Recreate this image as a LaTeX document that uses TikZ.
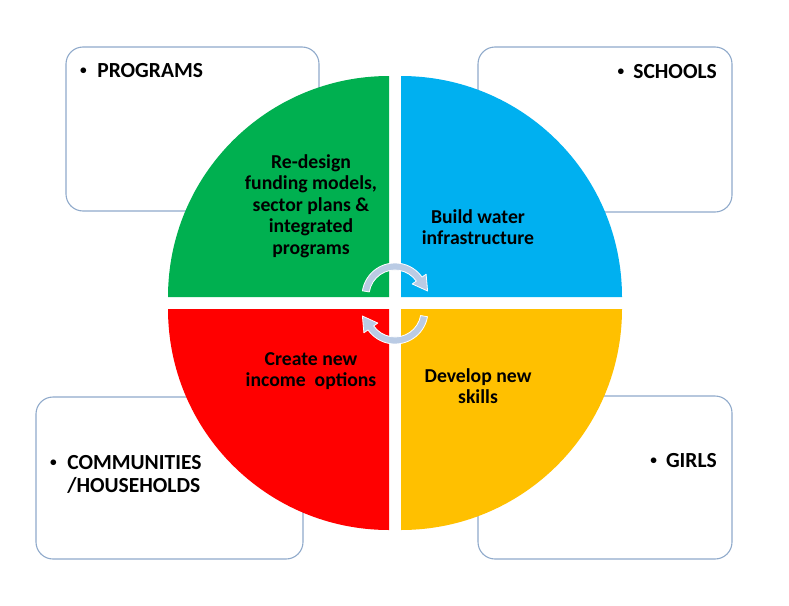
\documentclass[tikz,border=0pt]{standalone}
\usepackage{fontspec}
\setmainfont{Carlito}
\definecolor{qgreen}{HTML}{00B050}
\definecolor{qblue}{HTML}{00B0F0}
\definecolor{qred}{HTML}{FF0000}
\definecolor{qyellow}{HTML}{FFC000}
\definecolor{boxline}{HTML}{90AACB}
\definecolor{arrowfill}{HTML}{BACBE4}
\newcommand{\smbullet}{\raisebox{0.14em}{\scalebox{0.62}{•}}}
\begin{document}
\begin{tikzpicture}[x=1pt,y=-1pt,
  infobox/.style={draw=boxline, line width=1.1pt, rounded corners=17pt, fill=white, inner sep=0pt},
  boxtext/.style={font=\bfseries\fontsize{21.5}{23}\selectfont, inner sep=0pt, align=left},
  quadtext/.style={font=\bfseries\fontsize{19.7}{21.5}\selectfont, inner sep=0pt, align=center},
  cyclearrow/.style={fill=arrowfill, draw=white, line width=0.8pt, line join=round}]
\useasboundingbox[fill=white] (0,0) rectangle (789,605);
% outer boxes
\node[infobox, minimum width=253pt, minimum height=164pt] (bprog) at (192.5,129) {};
\node[infobox, minimum width=254pt, minimum height=165pt] (bschool) at (605,129.5) {};
\node[infobox, minimum width=254pt, minimum height=163pt] (bgirls) at (605,477.5) {};
\node[infobox, minimum width=267pt, minimum height=162pt] (bcomm) at (169.5,478) {};
% quadrants
\fill[qgreen] (389,297) -- (168,297) arc[start angle=180, end angle=270, radius=221] -- cycle;
\fill[qblue] (401,297) -- (401,76) arc[start angle=270, end angle=360, radius=221] -- cycle;
\fill[qred] (389,309) -- (168,309) arc[start angle=180, end angle=90, radius=221] -- cycle;
\fill[qyellow] (401,309) -- (622,309) arc[start angle=0, end angle=90, radius=221] -- cycle;
% cycle arrows
\begin{scope}[shift={(395,296)}]
\filldraw[cyclearrow] (-171:33) arc[start angle=-171, end angle=-35, radius=33] -- (-35:38) -- (32.6,-5.0) -- (-35:21) -- (-35:26) arc[start angle=-35, end angle=-171, radius=26] -- cycle;
\end{scope}
\begin{scope}[shift={(395,311)}]
\filldraw[cyclearrow] (10:33) arc[start angle=10, end angle=145, radius=33] -- (145:38) -- (-32.6,5.0) -- (145:21) -- (145:26) arc[start angle=145, end angle=10, radius=26] -- cycle;
\end{scope}
% quadrant texts
\node[quadtext] (tgreen) at (311,206) {Re-design\\funding models,\\sector plans \&\\integrated\\programs};
\node[quadtext] (tblue) at (478,227) {Build water\\infrastructure};
\node[quadtext] (tred) at (311,371) {Create new\\income\ \ options};
\node[quadtext] (tyellow) at (478,386) {Develop new\\skills};
% box texts
\node[boxtext, anchor=west] (lprog) at (80,71) {\smbullet\hspace{10.5pt}PROGRAMS};
\node[boxtext, anchor=east] (lschool) at (717,72) {\smbullet\hspace{9pt}SCHOOLS};
\node[boxtext, anchor=east] (lgirls) at (717,461) {\smbullet\hspace{9pt}GIRLS};
\node[boxtext, anchor=west] (lcomm) at (50,474) {\smbullet\hspace{10.5pt}COMMUNITIES\\\phantom{\smbullet}\hspace{10.5pt}/HOUSEHOLDS};
\end{tikzpicture}
\end{document}
